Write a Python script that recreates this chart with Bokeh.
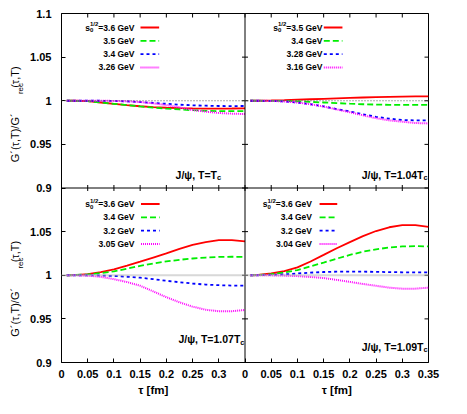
import math
from bokeh.plotting import figure
from bokeh.models import (Range1d, LinearAxis, FixedTicker, CustomJSTickFormatter, Label, Span)
from bokeh.embed import file_html
from bokeh.resources import INLINE

# ---------------- data ----------------
tau = [0.01, 0.025, 0.05, 0.075, 0.1, 0.125, 0.15, 0.175, 0.2, 0.225, 0.25, 0.275, 0.3, 0.325, 0.35]

# J/psi, T = Tc
tl_36 = [1.0, 1.0, 0.9995, 0.998, 0.9965, 0.995, 0.9937, 0.9927, 0.992, 0.9915, 0.9912, 0.991, 0.991, 0.9911, 0.9913]
tl_35 = [1.0, 1.0, 0.9995, 0.998, 0.9965, 0.995, 0.9935, 0.9922, 0.991, 0.99, 0.9892, 0.9885, 0.9881, 0.988, 0.988]
tl_34 = [1.0, 1.0, 1.0, 1.0, 0.9998, 0.9993, 0.9985, 0.9975, 0.9965, 0.9955, 0.9948, 0.9943, 0.994, 0.9939, 0.994]
tl_326 = [1.0, 1.0, 1.0, 1.0, 0.9998, 0.9994, 0.9985, 0.997, 0.995, 0.9925, 0.9893, 0.9875, 0.986, 0.9852, 0.9848]

# J/psi, T = 1.04 Tc
tr_35 = [1.0, 1.0, 1.0003, 1.0007, 1.0012, 1.0017, 1.0022, 1.0027, 1.0032, 1.0037, 1.0041, 1.0044, 1.0047, 1.0049, 1.005]
tr_34 = [1.0, 1.0, 0.9999, 0.9997, 0.9993, 0.9987, 0.998, 0.9973, 0.9966, 0.996, 0.9956, 0.9953, 0.9952, 0.9952, 0.9953]
tr_328 = [1.0, 1.0, 0.9998, 0.9992, 0.998, 0.996, 0.9935, 0.9905, 0.9877, 0.9845, 0.9816, 0.9795, 0.978, 0.9775, 0.9775]
tr_316 = [1.0, 1.0, 0.9998, 0.9992, 0.998, 0.996, 0.9933, 0.99, 0.9868, 0.9833, 0.98, 0.9775, 0.976, 0.9745, 0.974]

# J/psi, T = 1.07 Tc
bl_36 = [1.0, 1.0002, 1.0012, 1.0035, 1.0068, 1.011, 1.0155, 1.0203, 1.025, 1.0302, 1.0347, 1.038, 1.0402, 1.0403, 1.0388]
bl_34 = [1.0, 1.0002, 1.001, 1.0025, 1.0045, 1.0075, 1.0108, 1.0135, 1.0158, 1.0177, 1.0192, 1.0203, 1.021, 1.0212, 1.0211]
bl_32 = [1.0, 1.0, 0.9999, 0.9997, 0.9992, 0.9983, 0.9972, 0.9955, 0.9937, 0.992, 0.9905, 0.9893, 0.9886, 0.9882, 0.988]
bl_305 = [1.0, 1.0, 0.9995, 0.9982, 0.9955, 0.9922, 0.988, 0.9815, 0.9748, 0.969, 0.964, 0.9605, 0.9587, 0.9588, 0.9602]

# J/psi, T = 1.09 Tc
br_36 = [1.0, 1.0003, 1.002, 1.0048, 1.009, 1.0157, 1.0233, 1.031, 1.038, 1.0448, 1.0507, 1.055, 1.0575, 1.0575, 1.0555]
br_34 = [1.0, 1.0002, 1.0012, 1.0032, 1.006, 1.0102, 1.0145, 1.019, 1.0233, 1.027, 1.0297, 1.0318, 1.033, 1.0334, 1.033]
br_32 = [1.0, 1.0, 1.0004, 1.001, 1.002, 1.003, 1.0037, 1.0041, 1.0042, 1.0041, 1.0039, 1.0036, 1.0034, 1.0033, 1.0033]
br_304 = [1.0, 1.0, 0.9999, 0.9996, 0.999, 0.998, 0.9968, 0.9947, 0.9924, 0.99, 0.9879, 0.9858, 0.9846, 0.9846, 0.9858]

tl_s0 = ["3.6", "3.5", "3.4", "3.26"]
tr_s0 = ["3.5", "3.4", "3.28", "3.16"]
bl_s0 = ["3.6", "3.4", "3.2", "3.05"]
br_s0 = ["3.6", "3.4", "3.2", "3.04"]

temps = ["T=T", "T=1.04T", "T=1.07T", "T=1.09T"]

x_ticks = [0.0, 0.05, 0.1, 0.15, 0.2, 0.25, 0.3, 0.35]
x_tick_labels = ["0", "0.05", "0.1", "0.15", "0.2", "0.25", "0.3", "0.35"]
y_ticks = [0.9, 0.95, 1.0, 1.05, 1.1]
y_tick_labels = ["0.9", "0.95", "1", "1.05", "1.1"]

x_title = "\u03c4 [fm]"
y_title = [("G\u00b4(\u03c4,T)/G\u00b4", False), ("rec", True), ("(\u03c4,T)", False)]

# ---------------- styles ----------------
FONT = "Liberation Sans"
colors = ["#ff0000", "#00ee00", "#0000ff", "#ff00ff"]
dashes = ["solid", "6 3", "3 3", "1 1"]
widths = [1.8, 1.8, 1.8, 2.0]
YT, YSUB = 11, 8

W_BOLD = {'0': .556, '1': .556, '2': .556, '3': .556, '4': .556, '5': .556, '6': .556,
          '7': .556, '8': .556, '9': .556, '.': .278, '=': .584, ' ': .278, 'G': .778,
          'e': .556, 'V': .667, '/': .278, 's': .556, 'c': .556}
W_REG = {'G': .778, '\u00b4': .333, '(': .333, ')': .333, '\u03c4': .46, ',': .278,
         'T': .611, '/': .278, 'r': .333, 'e': .556, 'c': .5}


def tw(s, size, table):
    return sum(table.get(ch, .556) for ch in s) * size


FW, FH = 374, 349          # frame size in px
DX = 0.7 / FW              # data per px (x)
DY = 0.4 / FH              # data per px (y)
p = figure(width=451, height=398, x_range=Range1d(0, 0.7), y_range=Range1d(0.9, 1.3),
           output_backend="svg", toolbar_location=None, x_axis_type=None, y_axis_type=None,
           min_border_left=54, min_border_right=23, min_border_top=13, min_border_bottom=36)
p.extra_x_ranges = {"r": Range1d(-0.35, 0.35)}
p.extra_y_ranges = {"t": Range1d(0.7, 1.1)}
p.outline_line_color = "black"
p.outline_line_width = 1
p.background_fill_color = "white"
p.border_fill_color = "white"

# tick positions on the main ranges (left/bottom panels + right/top panels)
xpos, xlab = [], []
for t, l in zip(x_ticks, x_tick_labels):
    if t < 0.35:
        xpos.append(round(t, 4)); xlab.append(l)
for t, l in zip(x_ticks, x_tick_labels):
    xpos.append(round(t + 0.35, 4)); xlab.append(l)
ypos, ylab = [], []
for t, l in zip(y_ticks, y_tick_labels):
    if t < 1.1:
        ypos.append(round(t, 4)); ylab.append(l)
for t, l in zip(y_ticks, y_tick_labels):
    ypos.append(round(t + 0.2, 4)); ylab.append(l)

FMT_CODE = """
for (let i = 0; i < pos.length; i++) { if (Math.abs(pos[i] - tick) < 1e-6) return lab[i]; }
return "";
"""


def labelled_axis(ticks, labels, standoff, size, style="bold", tick_in=4, orient="horizontal"):
    return LinearAxis(ticker=FixedTicker(ticks=ticks),
                      formatter=CustomJSTickFormatter(args=dict(pos=ticks, lab=labels), code=FMT_CODE),
                      major_tick_in=tick_in, major_tick_out=0,
                      major_tick_line_color="black" if tick_in else None,
                      minor_tick_line_color=None, axis_line_color=None,
                      major_label_standoff=standoff, major_label_text_font=FONT,
                      major_label_text_font_style=style, major_label_text_font_size=f"{size}px",
                      major_label_text_color="black", major_label_orientation=orient)


p.add_layout(labelled_axis(xpos, xlab, 7, 11), "below")
p.add_layout(labelled_axis(ypos, ylab, 10, 11), "left")

# y titles (one per row), written as rotated labels; "rec" is a lowered, smaller piece
total = sum(tw(s, YSUB if sub else YT, W_REG) for s, sub in y_title)
main_pos, main_lab, sub_pos, sub_lab = [], [], [], []
for yc in (1.2, 1.0):
    c = yc + 4 * DY
    cum = -total / 2
    for s, sub in y_title:
        w = tw(s, YSUB if sub else YT, W_REG)
        centre = round(c + (cum + w / 2) * DY, 6)
        (sub_pos if sub else main_pos).append(centre)
        (sub_lab if sub else main_lab).append(s)
        cum += w
p.add_layout(labelled_axis(sub_pos, sub_lab, 7, YSUB, "normal", 0, math.pi / 2), "left")
p.add_layout(labelled_axis(main_pos, main_lab, -7, YT, "normal", 0, math.pi / 2), "left")

# x titles (one per column)
p.add_layout(labelled_axis([0.175, 0.525], [x_title, x_title], 3, 11.5, "bold", 0), "below")

# mirrored ticks (top, right) and ticks on the inner borders, drawn as dash markers
p.scatter(xpos, [1.3] * len(xpos), marker="dash", size=8, angle=math.pi / 2, line_color="black", line_width=1)
p.scatter([0.7] * len(ypos), ypos, marker="dash", size=8, line_color="black", line_width=1)
p.scatter(xpos, [1.1] * len(xpos), marker="dash", size=6, angle=math.pi / 2, line_color="black", line_width=1)
p.scatter([0.35] * len(ypos), ypos, marker="dash", size=6, line_color="black", line_width=1)
p.add_layout(Span(location=1.1, dimension="width", line_color="black", line_width=1))
p.add_layout(Span(location=0.35, dimension="height", line_color="black", line_width=1))

# reference lines at 1
p.add_layout(Span(location=1.0, dimension="width", y_range_name="t",
                  line_color="#555555", line_width=1, line_dash="1 2"))
p.add_layout(Span(location=1.0, dimension="width",
                  line_color="#b0b0b0", line_width=2, line_dash="1 1"))

panels = [
    dict(series=[tl_36, tl_35, tl_34, tl_326], s0=tl_s0, temp=temps[0], xr="default", yr="t",
         x0=0.0, top=1.3, bot=1.1, tr=73, gx=80.5, gw=19, row0=14, ar=159.7, au=13.3),
    dict(series=[tr_35, tr_34, tr_328, tr_316], s0=tr_s0, temp=temps[1], xr="r", yr="t",
         x0=0.35, top=1.3, bot=1.1, tr=77.5, gx=80.3, gw=19, row0=14, ar=182.7, au=13.3),
    dict(series=[bl_36, bl_34, bl_32, bl_305], s0=bl_s0, temp=temps[2], xr="default", yr="default",
         x0=0.0, top=1.1, bot=0.9, tr=73, gx=81, gw=19, row0=16, ar=183, au=23.3),
    dict(series=[br_36, br_34, br_32, br_304], s0=br_s0, temp=temps[3], xr="r", yr="default",
         x0=0.35, top=1.1, bot=0.9, tr=67, gx=76, gw=18, row0=16, ar=182.7, au=16),
]

PITCH = 13.3
LEG = 8.5


def txt(text, x, y, xo, yo, size, style="bold", align="left", baseline="middle"):
    p.add_layout(Label(x=x, y=y, x_offset=xo, y_offset=yo, text=text, text_font=FONT,
                       text_font_size=f"{size}px", text_font_style=style, text_color="black",
                       text_align=align, text_baseline=baseline))


# curves
for pan in panels:
    for ys, c, d, w in zip(pan["series"], colors, dashes, widths):
        p.line(tau, ys, x_range_name=pan["xr"], y_range_name=pan["yr"],
               line_color=c, line_dash=d, line_width=w)

# legend keys (panel-local coordinates: panel starts at x=0, its top is at 1.1)
for pan in panels:
    for i, (c, d, w) in enumerate(zip(colors, dashes, widths)):
        ky = 1.1 - (pan["row0"] + i * PITCH) * DY
        p.segment(x0=[pan["gx"] * DX], y0=[ky], x1=[(pan["gx"] + pan["gw"]) * DX], y1=[ky],
                  x_range_name=pan["xr"], y_range_name=pan["yr"],
                  line_color=c, line_dash=d, line_width=w)

# legend texts and panel annotations
for pan in panels:
    R = pan["tr"]
    for i, s in enumerate(pan["s0"]):
        yo = -(pan["row0"] + i * PITCH)
        main = f"={s} GeV" if i == 0 else f"{s} GeV"
        txt(main, pan["x0"], pan["top"], R, yo, LEG, align="right")
        if i == 0:
            wm = tw(main, LEG, W_BOLD)
            wsup = tw("1/2", 6, W_BOLD)
            txt("1/2", pan["x0"], pan["top"], R - wm, yo + 3.5, 6, align="right")
            txt("0", pan["x0"], pan["top"], R - wm - wsup, yo - 2.5, 6, align="left")
            txt("s", pan["x0"], pan["top"], R - wm - wsup, yo, LEG, align="right")
    wc = tw("c", 7.5, W_BOLD)
    txt("J/\u03c8, " + pan["temp"], pan["x0"], pan["bot"], pan["ar"] - wc, pan["au"], 10.5, align="right")
    txt("c", pan["x0"], pan["bot"], pan["ar"], pan["au"] - 3, 7.5, align="right")

open("out.html", "w").write(file_html(p, INLINE))
